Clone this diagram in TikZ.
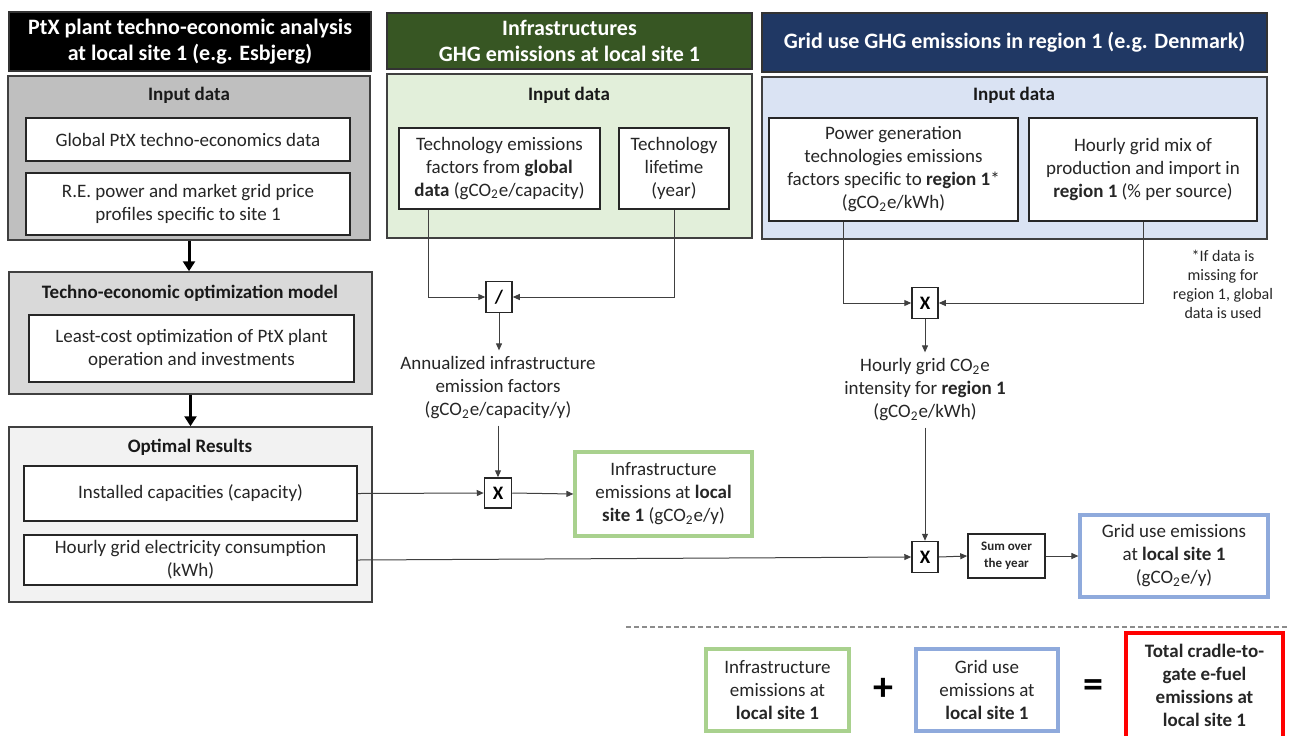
\documentclass[tikz,border=0pt]{standalone}
\usepackage{fontspec}
\setmainfont{Carlito}
\usepackage{tikz}
\usetikzlibrary{arrows.meta}
\definecolor{ptxgreen}{HTML}{375623}
\definecolor{ptxnavy}{HTML}{203864}
\definecolor{lightgreen}{HTML}{E2EFDA}
\definecolor{lightblue}{HTML}{DAE3F3}
\definecolor{edgegreen}{HTML}{A9D18E}
\definecolor{edgeblue}{HTML}{8FAADC}
\newcommand{\gco}{gCO\textsubscript{2}e}
\tikzstyle{header} = [rectangle, align=center, draw=black!80, line width=0.75pt, text=white, font=\fontsize{11}{13}\selectfont\bfseries]
\tikzstyle{panel} = [rectangle, draw=black!75, line width=0.75pt]
\tikzstyle{paneltitle} = [text=black!90, font=\fontsize{9.5}{11.5}\selectfont\bfseries]
\tikzstyle{databox} = [rectangle, align=center, draw=black!85, fill=white, line width=0.75pt, inner sep=2pt, text=black!85, font=\fontsize{9.5}{11.5}\selectfont]
\tikzstyle{result} = [databox, line width=1.6pt]
\tikzstyle{op} = [rectangle, draw=black!85, fill=white, line width=0.75pt, inner sep=0pt, minimum width=13pt, minimum height=15.5pt, font=\fontsize{9.5}{11.5}\selectfont\bfseries]
\tikzstyle{plain} = [align=center, inner sep=3pt, text=black!85, font=\fontsize{9.5}{11.5}\selectfont]
\tikzstyle{arrow} = [line width=0.5pt, draw=black!75, -{Triangle[length=3.5pt,width=3pt]}]
\tikzstyle{bigarrow} = [line width=1.5pt, -{Triangle[length=5pt,width=6pt]}]

\begin{document}
\begin{tikzpicture}[x=0.5pt, y=-0.5pt]
\useasboundingbox (0,0) rectangle (1290,735);

% left column: PtX plant
\node (t1) [header, fill=black, minimum width=181pt, minimum height=29.5pt] at (190,41.5) {PtX plant techno-economic analysis\\at local site 1 (e.g. Esbjerg)};
\node (in1) [panel, fill=black!25, minimum width=181pt, minimum height=82pt] at (189,158) {};
\node [paneltitle] at (189,95) {Input data};
\node (g1) [databox, minimum width=162pt, minimum height=21.5pt] at (188,139.5) {Global PtX techno-economics data};
\node (g2) [databox, minimum width=162pt, minimum height=31pt] at (188,204) {R.E. power and market grid price\\profiles specific to site 1};
\node (opt1) [panel, fill=black!15, minimum width=181.5pt, minimum height=61pt] at (190.5,333) {};
\node [paneltitle] at (190,293) {Techno-economic optimization model};
\node (lc) [databox, minimum width=162.5pt, minimum height=33.5pt] at (191.5,348.5) {Least-cost optimization of PtX plant\\operation and investments};
\node (res1) [panel, fill=black!5, minimum width=181.5pt, minimum height=87.5pt] at (190.5,514.5) {};
\node [paneltitle] at (190,447) {Optimal Results};
\node (cap) [databox, minimum width=166.5pt, minimum height=27.5pt] at (190.5,493.5) {Installed capacities (capacity)};
\node (hgc) [databox, minimum width=166.5pt, minimum height=25pt] at (190.5,560) {Hourly grid electricity consumption\\(kWh)};

\draw [bigarrow] (in1.south) -- (in1.south |- opt1.north);
\draw [bigarrow] (opt1.south) -- (opt1.south |- res1.north);

% middle column: infrastructures
\node (t2) [header, fill=ptxgreen, minimum width=182.5pt, minimum height=28pt] at (569.5,41) {Infrastructures\\GHG emissions at local site 1};
\node (in2) [panel, fill=lightgreen, minimum width=182.5pt, minimum height=82pt] at (569.5,156) {};
\node [paneltitle] at (569,95) {Input data};
\node (tef) [databox, minimum width=100.5pt, minimum height=40.5pt] at (499.5,168.5) {Technology emissions\\factors from \textbf{global}\\\textbf{data} (\gco/capacity)};
\node (tlt) [databox, minimum width=55pt, minimum height=40.5pt] at (674,168.5) {Technology\\lifetime\\(year)};
\node (div) [op] at (499,297) {/};
\node (ann) [plain] at (498,388) {Annualized infrastructure\\emission factors\\(\gco/capacity/y)};
\node (mul1) [op, minimum width=13.5pt, minimum height=15pt] at (498,493) {X};
\node (infra) [result, draw=edgegreen, minimum width=88.5pt, minimum height=42pt] at (663.5,494) {Infrastructure\\emissions at \textbf{local}\\\textbf{site 1} (\gco/y)};

\draw [arrow] ([xshift=-35.75pt]tef.south) |- (div.west);
\draw [arrow] (tlt.south) |- (div.east);
\draw [arrow] (div.south) -- (div.south |- ann.north);
\draw [arrow] (mul1.north |- ann.south) -- (mul1.north);
\draw [arrow] (cap.east) -- (mul1.west);
\draw [arrow] (mul1.east) -- (infra.west);

% right column: grid use
\node (t3) [header, fill=ptxnavy, minimum width=252.5pt, minimum height=29.5pt] at (1014.5,42.5) {Grid use GHG emissions in region 1 (e.g. Denmark)};
\node (in3) [panel, fill=lightblue, minimum width=252.5pt, minimum height=81pt] at (1014.5,158) {};
\node [paneltitle] at (1014,95) {Input data};
\node (pgf) [databox, minimum width=124.5pt, minimum height=51.5pt] at (893.5,169.5) {Power generation\\technologies emissions\\factors specific to \textbf{region 1}*\\(\gco/kWh)};
\node (hmx) [databox, minimum width=114pt, minimum height=51.5pt] at (1143,169.5) {Hourly grid mix of\\production and import in\\\textbf{region 1} (\% per source)};
\node (mul2) [op] at (925,303) {X};
\node (note) [plain, font=\fontsize{8}{9.5}\selectfont] at (1223,284) {*If data is\\missing for\\region 1, global\\data is used};
\node (hgi) [plain] at (925,390) {Hourly grid CO\textsubscript{2}e\\intensity for \textbf{region 1}\\(\gco/kWh)};
\node (mul3) [op] at (925,557) {X};
\node (sum) [databox, minimum width=38.5pt, minimum height=22pt, font=\fontsize{6.5}{8.5}\selectfont\bfseries] at (1006.5,556) {Sum over\\the year};
\node (grid) [result, draw=edgeblue, minimum width=94pt, minimum height=41pt] at (1174,556) {Grid use emissions\\at \textbf{local site 1}\\(\gco/y)};

\draw [arrow] ([xshift=-25.25pt]pgf.south) |- (mul2.west);
\draw [arrow] (hmx.south) |- (mul2.east);
\draw [arrow] (mul2.south) -- (hgi.north);
\draw [arrow] (hgi.south) -- (mul3.north);
\draw [arrow] (hgc.east) -- (mul3.west);
\draw [arrow] (mul3.east) -- (sum.west);
\draw [arrow] (sum.east) -- (grid.west);

% total
\coordinate (dl) at (626,627);
\coordinate (dr) at (1290,627);
\draw [black!45, line width=0.6pt, dash pattern=on 2.5pt off 1.5pt] (dl) -- (dr);
\node (tot1) [result, draw=edgegreen, minimum width=71.5pt, minimum height=41pt] at (777.5,690) {Infrastructure\\emissions at\\\textbf{local site 1}};
\node (plus) [font=\fontsize{20}{20}\selectfont\bfseries] at (883,689) {+};
\node (tot2) [result, draw=edgeblue, minimum width=71pt, minimum height=41pt] at (987,690) {Grid use\\emissions at\\\textbf{local site 1}};
\node (eq) [font=\fontsize{20}{20}\selectfont\bfseries] at (1093,689) {=};
\node (tot3) [result, draw=red, minimum width=78.5pt, minimum height=52.5pt, font=\fontsize{9.5}{11.5}\selectfont\bfseries] at (1204.5,685.5) {Total cradle-to-\\gate e-fuel\\emissions at\\local site 1};

\end{tikzpicture}
\end{document}
